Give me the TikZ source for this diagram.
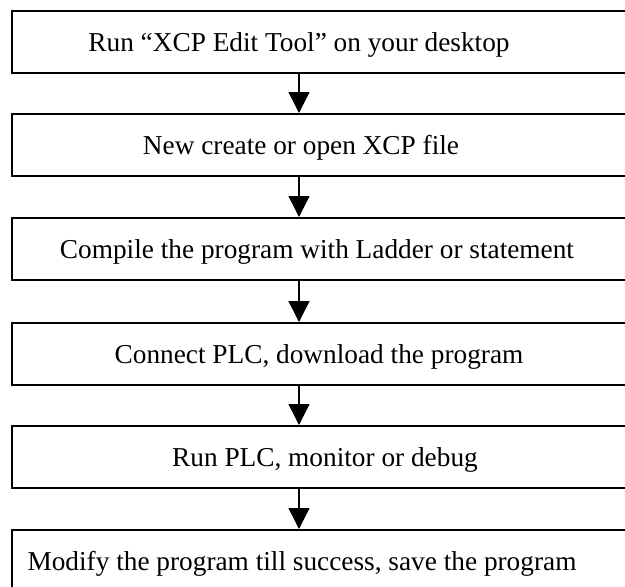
\documentclass[tikz,border=0pt]{standalone}
\usepackage{fontspec}
\setmainfont{Liberation Serif}
\usetikzlibrary{arrows.meta}
\tikzset{
  stepbox/.style={draw,line width=1.6pt,anchor=north west,minimum width=629pt,minimum height=62pt,inner sep=0pt},
  steptext/.style={anchor=base,inner sep=0pt,font=\fontsize{27.3}{32}\selectfont},
  flow/.style={line width=1.4pt,-{Triangle[width=21pt,length=21pt]}}
}
\begin{document}
\begin{tikzpicture}[x=1pt,y=-1pt]
	\useasboundingbox (0,0) rectangle (625,587);
	\clip (0,0) rectangle (625,587);
	\coordinate (axis) at (299,0);
	% boxes
	\node[stepbox] (b1) at (11,10) {};
	\node[stepbox] (b2) at (11,113) {};
	\node[stepbox] (b3) at (11,217) {};
	\node[stepbox] (b4) at (11,322) {};
	\node[stepbox] (b5) at (11,425) {};
	\node[stepbox] (b6) at (11,529) {};
	% texts
	\node[steptext] (t1) at (299,51) {Run “XCP Edit Tool” on your desktop};
	\node[steptext] (t2) at (301,154) {New create or open XCP file};
	\node[steptext] (t3) at (317,258) {Compile the program with Ladder or statement};
	\node[steptext] (t4) at (319,363) {Connect PLC, download the program};
	\node[steptext] (t5) at (325,466) {Run PLC, monitor or debug};
	\node[steptext] (t6) at (302,570) {Modify the program till success, save the program};
	% arrows
	\draw[flow] (b1.south -| axis) -- (b2.north -| axis);
	\draw[flow] (b2.south -| axis) -- (b3.north -| axis);
	\draw[flow] (b3.south -| axis) -- (b4.north -| axis);
	\draw[flow] (b4.south -| axis) -- (b5.north -| axis);
	\draw[flow] (b5.south -| axis) -- (b6.north -| axis);
\end{tikzpicture}
\end{document}
